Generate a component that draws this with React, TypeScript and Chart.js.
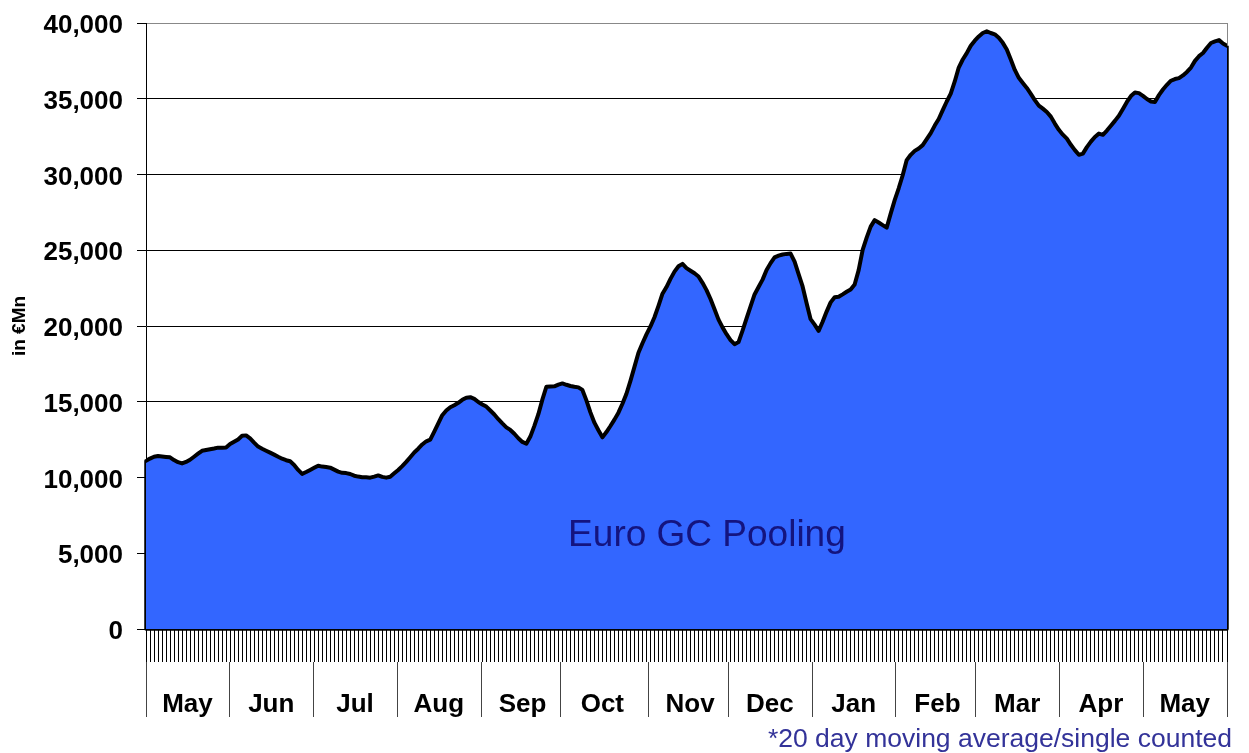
import { useEffect, useRef } from "react";
import { Chart, registerables } from "chart.js";

Chart.register(...registerables);

const FONT = "'Liberation Sans', Arial, Helvetica, sans-serif";

// Month labels along the bottom and number of business days in each month
const months = ["May", "Jun", "Jul", "Aug", "Sep", "Oct", "Nov", "Dec", "Jan", "Feb", "Mar", "Apr", "May"];
const monthDays = [21, 21, 21, 21, 20, 22, 20, 21, 21, 20, 21, 21, 21];

// Y axis
const yMin = 0;
const yMax = 40000;
const yStep = 5000;

// Daily volume (20 day moving average), € Mn
const volume = [
  11100, 11250, 11370, 11420, 11390, 11360, 11330, 11150, 11010, 10930,
  11030, 11170, 11370, 11570, 11760, 11810, 11860, 11910, 11970, 11960,
  11980, 12210, 12360, 12510, 12750, 12780, 12580, 12300, 12040, 11900,
  11770, 11640, 11510, 11370, 11240, 11140, 11070, 10830, 10500, 10240,
  10360, 10500, 10640, 10780, 10720, 10690, 10650, 10520, 10390, 10310,
  10290, 10230, 10120, 10060, 10020, 10010, 9990, 10060, 10140, 10040,
  9990, 10050, 10280, 10500, 10750, 11030, 11340, 11650, 11900, 12180,
  12390, 12500, 13030, 13570, 14110, 14420, 14640, 14770, 14930, 15130,
  15270, 15300, 15190, 14980, 14820, 14680, 14420, 14160, 13850, 13570,
  13310, 13140, 12890, 12590, 12350, 12230, 12700, 13410, 14180, 15140,
  15990, 16010, 16020, 16130, 16210, 16120, 16040, 15990, 15950, 15780,
  15090, 14300, 13620, 13120, 12650, 13000, 13400, 13820, 14280, 14870,
  15530, 16380, 17300, 18230, 18860, 19450, 19970, 20580, 21330, 22130,
  22570, 23110, 23590, 23940, 24100, 23820, 23650, 23480, 23270, 22850,
  22370, 21780, 21110, 20420, 19910, 19460, 19070, 18800, 18940, 19700,
  20500, 21290, 22080, 22570, 23060, 23690, 24150, 24530, 24640, 24720,
  24760, 24780, 24250, 23430, 22610, 21500, 20450, 20090, 19680, 20280,
  20950, 21560, 21900, 21930, 22090, 22260, 22410, 22740, 23690, 25030,
  25830, 26560, 26990, 26830, 26660, 26490, 27420, 28310, 29090, 29950,
  30950, 31300, 31560, 31720, 31940, 32330, 32730, 33230, 33660, 34250,
  34820, 35340, 36140, 37060, 37590, 38010, 38500, 38830, 39110, 39340,
  39450, 39340, 39250, 39020, 38690, 38250, 37590, 36900, 36380, 36040,
  35710, 35320, 34910, 34550, 34350, 34130, 33820, 33360, 32950, 32630,
  32370, 31960, 31610, 31300, 31380, 31810, 32170, 32480, 32700, 32620,
  32900, 33220, 33540, 33880, 34330, 34790, 35180, 35410, 35370, 35190,
  34980, 34820, 34790, 35240, 35610, 35920, 36190, 36300, 36360, 36540,
  36770, 37060, 37500, 37810, 38020, 38370, 38680, 38790, 38870, 38650,
  38500,
];

const seriesName = "Euro GC Pooling";
const yTitle = "in €Mn";
const footnote = "*20 day moving average/single counted";

export default function App() {
  const canvasRef = useRef<HTMLCanvasElement | null>(null);

  useEffect(() => {
    const canvas = canvasRef.current;
    if (!canvas) return;

    const n = volume.length;
    const points = volume.map((v, i) => ({ x: i, y: v }));
    const outline = [
      { x: 0, y: volume[0] },
      { x: 0, y: 0 },
      { x: n - 1, y: 0 },
      { x: n - 1, y: volume[n - 1] },
    ];
    const bounds: number[] = [0];
    monthDays.forEach((d) => bounds.push(bounds[bounds.length - 1] + d));
    const totalDays = bounds[bounds.length - 1];

    const seriesLabelPlugin = {
      id: "seriesLabel",
      afterDatasetsDraw(chart: any) {
        const { ctx, scales } = chart;
        const x = scales.x.getPixelForValue(n * 0.517);
        const y = scales.y.getPixelForValue(6150);
        ctx.save();
        ctx.font = `37px ${FONT}`;
        ctx.fillStyle = "#14147f";
        ctx.textAlign = "center";
        ctx.textBaseline = "middle";
        ctx.fillText(seriesName, x, y);
        ctx.restore();
      },
    };

    const chart = new Chart(canvas, {
      type: "line",
      data: {
        datasets: [
          {
            label: seriesName,
            data: points,
            borderColor: "#000000",
            borderWidth: 4,
            borderJoinStyle: "round",
            borderCapStyle: "round",
            backgroundColor: "#3366FF",
            fill: "origin",
            pointRadius: 0,
            tension: 0,
          },
          {
            label: "outline",
            data: outline,
            borderColor: "#000000",
            borderWidth: 3.5,
            borderJoinStyle: "round",
            fill: false,
            pointRadius: 0,
            tension: 0,
            clip: false as any,
          },
        ],
      },
      options: {
        animation: false,
        responsive: true,
        maintainAspectRatio: false,
        events: [],
        layout: { padding: { top: 23, right: 17, bottom: 0, left: 0 } },
        plugins: {
          legend: { display: false },
          tooltip: { enabled: false },
          title: {
            display: true,
            position: "bottom",
            align: "end",
            text: footnote,
            color: "#333399",
            font: { family: FONT, size: 26.5, weight: "normal", lineHeight: 1.0 },
            padding: { top: 9.5, bottom: 0 },
          },
        },
        scales: {
          x: {
            type: "linear",
            position: "bottom",
            min: 0,
            max: n - 1,
            weight: 0,
            ticks: { display: false, stepSize: 1 },
            grid: { drawOnChartArea: false, tickLength: 33, color: "#000000", lineWidth: 1 },
            border: { display: false },
            afterFit: (s: any) => {
              s.height = 33;
            },
          },
          m: {
            type: "linear",
            position: "bottom",
            min: 0,
            max: totalDays,
            weight: 1,
            afterBuildTicks: (s: any) => {
              s.ticks = bounds.map((v) => ({ value: v }));
            },
            afterFit: (s: any) => {
              s.height = 55;
            },
            ticks: {
              autoSkip: false,
              maxRotation: 0,
              minRotation: 0,
              labelOffset: 41.5,
              padding: -28,
              color: "#000000",
              font: { family: FONT, size: 26, weight: "bold" },
              callback: (_v: any, i: number) => months[i] ?? "",
            },
            grid: { drawOnChartArea: false, tickLength: 55, color: "#444444", lineWidth: 1 },
            border: { display: false },
          },
          y: {
            type: "linear",
            position: "left",
            min: yMin,
            max: yMax,
            ticks: {
              stepSize: yStep,
              padding: 14,
              labelOffset: 3,
              color: "#000000",
              font: { family: FONT, size: 26, weight: "bold" },
              callback: (v: any) => Number(v).toLocaleString("en-US"),
            },
            grid: {
              color: (c: any) => (c.tick && c.tick.value === yMax ? "#888888" : "#000000"),
              tickColor: "#000000",
              tickLength: 9,
              lineWidth: 1,
            },
            border: { display: true, color: "#000000", width: 1 },
            title: {
              display: true,
              text: yTitle,
              color: "#000000",
              font: { family: FONT, size: 19, weight: "bold" },
              padding: { top: 8, bottom: 0 },
            },
            afterFit: (s: any) => {
              s.width = 146;
              s.paddingTop = 0;
              s.paddingBottom = 0;
            },
          },
          r: {
            type: "linear",
            position: "right",
            min: yMin,
            max: yMax,
            ticks: { display: false },
            grid: { drawOnChartArea: false, drawTicks: false },
            border: { display: true, color: "#888888", width: 1 },
            afterFit: (s: any) => {
              s.width = 5;
              s.paddingTop = 0;
              s.paddingBottom = 0;
            },
          },
        },
      },
      plugins: [seriesLabelPlugin],
    } as any);

    return () => chart.destroy();
  }, []);

  return (
    <div style={{ position: "fixed", left: 0, top: 0, width: 1249, height: 753, background: "#ffffff" }}>
      <canvas ref={canvasRef} />
    </div>
  );
}
